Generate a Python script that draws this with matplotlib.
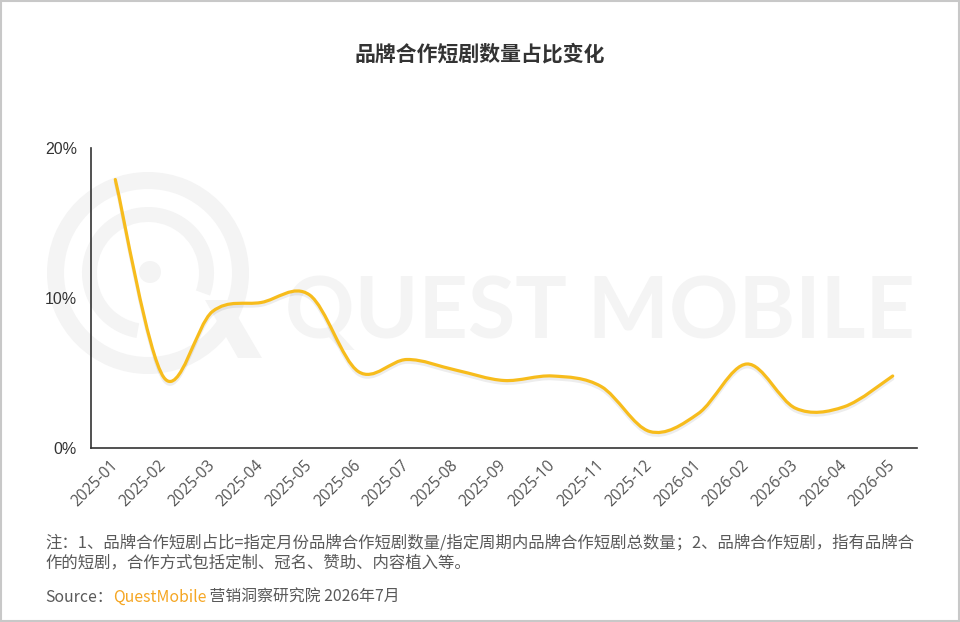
import matplotlib
matplotlib.use("Agg")
import matplotlib.pyplot as plt
import matplotlib.patheffects as pe
from matplotlib.patches import PathPatch, Rectangle, Circle, Wedge, Polygon
from matplotlib.path import Path

plt.rcParams["font.family"] = ["Noto Sans CJK SC", "DejaVu Sans"]

# data (share of brand-partnership short dramas, %)
months = ["2025-01", "2025-02", "2025-03", "2025-04", "2025-05", "2025-06",
          "2025-07", "2025-08", "2025-09", "2025-10", "2025-11", "2025-12",
          "2026-01", "2026-02", "2026-03", "2026-04", "2026-05"]
share = [17.9, 4.7, 9.1, 9.7, 10.2, 5.1, 5.9, 5.2, 4.5, 4.8, 4.1, 1.1,
         2.3, 5.6, 2.65, 2.75, 4.8]
y_ticks = [0, 10, 20]
y_labels = ["0%", "10%", "20%"]

title = "品牌合作短剧数量占比变化"
note_1 = "注：1、品牌合作短剧占比=指定月份品牌合作短剧数量/指定周期内品牌合作短剧总数量；2、品牌合作短剧，指有品牌合"
note_2 = "作的短剧，合作方式包括定制、冠名、赞助、内容植入等。"

LINE_COLOR = "#F7BC1C"
GREY = "#595959"
WM = "#f4f4f4"


def catmull_rom_path(xs, ys):
    """Cubic bezier path through the points (uniform Catmull-Rom)."""
    n = len(xs)
    verts = [(xs[0], ys[0])]
    codes = [Path.MOVETO]
    for i in range(n - 1):
        x0, y0 = (xs[i - 1], ys[i - 1]) if i > 0 else (xs[i], ys[i])
        x3, y3 = (xs[i + 2], ys[i + 2]) if i + 2 < n else (xs[i + 1], ys[i + 1])
        c1 = (xs[i] + (xs[i + 1] - x0) / 6, ys[i] + (ys[i + 1] - y0) / 6)
        c2 = (xs[i + 1] - (x3 - xs[i]) / 6, ys[i + 1] - (y3 - ys[i]) / 6)
        verts += [c1, c2, (xs[i + 1], ys[i + 1])]
        codes += [Path.CURVE4] * 3
    return Path(verts, codes)


fig = plt.figure(figsize=(9.6, 6.22), dpi=100)
fig.patch.set_facecolor("white")

# watermark layer in pixel coordinates
bg = fig.add_axes([0, 0, 1, 1], zorder=0)
bg.set_xlim(0, 960)
bg.set_ylim(622, 0)
bg.axis("off")
bg.add_patch(Wedge((148, 273), 101, 0, 360, width=17, color=WM, lw=0))
bg.add_patch(Wedge((148, 273), 66, 100, 20, width=15, color=WM, lw=0))
bg.add_patch(Circle((150, 272), 11, color=WM, lw=0))
bg.add_patch(Polygon([(205, 300), (228, 300), (262, 358), (238, 358)], color=WM, lw=0))
bg.text(600, 314, "QUEST MOBILE", color=WM, fontsize=62, fontweight="bold",
        family="Lato", ha="center", va="center")

ax = fig.add_axes([91 / 960, 174 / 622, 826 / 960, 300 / 622], zorder=1)
ax.patch.set_visible(False)

xs = list(range(len(months)))
line = PathPatch(catmull_rom_path(xs, share), facecolor="none", edgecolor=LINE_COLOR,
                 lw=2.3, capstyle="round", joinstyle="round")
line.set_path_effects([pe.SimpleLineShadow(offset=(0, -2), shadow_color="#000000", alpha=0.07),
                       pe.Normal()])
ax.add_patch(line)

ax.set_xlim(-0.5, len(months) - 0.5)
ax.set_ylim(0, 20)
ax.set_yticks(y_ticks)
ax.set_yticklabels(y_labels, family=["Liberation Sans", "DejaVu Sans"], fontsize=11.5, color="#333333")
ax.set_xticks(xs)
ax.set_xticklabels(months, rotation=45, ha="right", va="center", rotation_mode="anchor",
                   fontsize=11.2, color="#555555", family=["Open Sans", "DejaVu Sans"])
ax.tick_params(axis="both", length=0)
ax.tick_params(axis="y", pad=10)
ax.tick_params(axis="x", pad=11)
for side in ["top", "right"]:
    ax.spines[side].set_visible(False)
for side in ["left", "bottom"]:
    ax.spines[side].set_color("#333333")
    ax.spines[side].set_linewidth(1.2)

fig.text(0.5, 1 - 54 / 622, title, ha="center", va="center", fontsize=15,
         fontweight="bold", color="#333333")

fig.text(45 / 960, 1 - 543 / 622, note_1, ha="left", va="center", fontsize=11.8,
         fontweight="light", color=GREY)
fig.text(45 / 960, 1 - 563 / 622, note_2, ha="left", va="center", fontsize=11.8,
         fontweight="light", color=GREY)

# source line, pieces placed one after another
fig.canvas.draw()
renderer = fig.canvas.get_renderer()
x_cur = 45
y_src = 1 - 597 / 622
for piece, col in [("Source：", GREY), ("QuestMobile", "#F5A623"), (" 营销洞察研究院 2026年7月", GREY)]:
    t = fig.text(x_cur / 960, y_src, piece, ha="left", va="center", fontsize=11.4,
                 fontweight="light", color=col)
    x_cur += t.get_window_extent(renderer).width * 960 / fig.bbox.width

fig.add_artist(Rectangle((0.001, 0.001), 0.998, 0.997, transform=fig.transFigure,
                         fill=False, edgecolor="#c8c8c8", lw=1.5))

fig.savefig("out.png", dpi=100)
